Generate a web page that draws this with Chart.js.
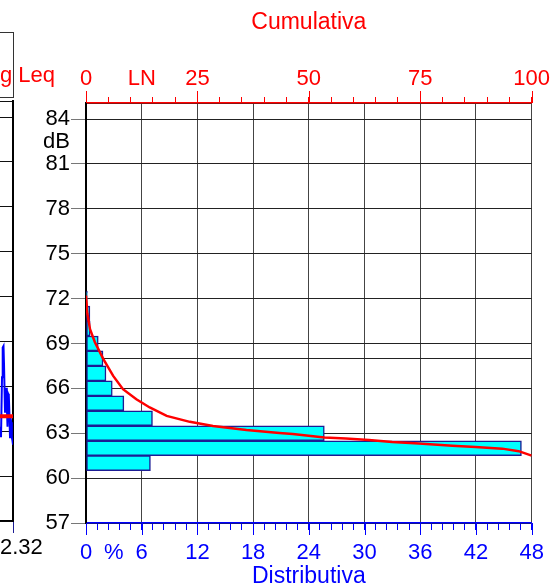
<!DOCTYPE html>
<html>
<head>
<meta charset="utf-8">
<script src="https://cdn.jsdelivr.net/npm/chart.js@4.4.1/dist/chart.umd.min.js"></script>
<style>
  html, body { margin: 0; padding: 0; background: #fff; }
  body { width: 555px; height: 587px; position: relative; overflow: hidden; font-family: 'Liberation Sans', Arial, sans-serif; }
  canvas { position: absolute; left: 0; top: 0; }
  .box { position: absolute; left: -20px; top: 32px; width: 34px; height: 66px; box-sizing: border-box; border: 1.5px solid #333; }
  .txt { position: absolute; font-size: 22px; line-height: 1; white-space: pre; }
</style>
</head>
<body>
<canvas id="side" width="15" height="587"></canvas>
<div class="box"></div>
<div class="txt" style="left:0;top:64px;color:#ff0000">g Leq</div>
<div class="txt" style="left:0;top:536px;color:#000">2.32</div>
<canvas id="main" width="555" height="587"></canvas>
<script>
// distributive histogram (dB level -> % of time)
const dbLevels    = [61, 62, 63, 64, 65, 66, 67, 68, 69, 70, 71, 72];
const distPercent = [6.94, 46.9, 25.67, 7.16, 4.08, 2.83, 2.15, 1.83, 1.32, 0.45, 0.42, 0.15];

// cumulative curve (LN)
const cumPercent = [0, 0.3, 0.9, 2.0, 3.9, 6.1, 8.3, 11.3, 14.3, 18.1, 23.3, 28.5, 36.0, 43.4, 46.4, 53.5, 58.3, 63.5, 68.7, 74.7, 82.2, 87.4, 93.4, 97.1, 100];
const cumLevel   = [72.2, 71.0, 69.95, 69.08, 67.95, 66.83, 65.94, 65.27, 64.72, 64.16, 63.76, 63.49, 63.22, 63.02, 62.95, 62.72, 62.65, 62.55, 62.42, 62.31, 62.16, 62.08, 61.97, 61.8, 61.5];

// left panel fragment (time history)
const signalTime  = [0, 1, 2, 2.7, 3.5, 4, 5, 5.6, 6.2, 6.8, 7.5, 8.2, 8.8, 9.4, 10, 10.6, 11.2, 11.8, 12.4, 13];
const signalLevel = [63.3, 62.6, 66.6, 68.6, 68.7, 67.5, 64.3, 65.2, 65.9, 64.8, 63.3, 65.5, 65.4, 64.2, 62.6, 63.9, 63.6, 62.6, 62.4, 62.1];
const leqLevel = 64.0;

const dbTicks   = [57, 60, 63, 66, 69, 72, 75, 78, 81, 84];
const distTicks = [0, 6, 12, 18, 24, 30, 36, 42, 48];
const cumTicks  = [0, 25, 50, 75, 100];
const yMin = 57, yMax = 85.07;

Chart.defaults.font.family = "'Liberation Sans', Arial, sans-serif";
Chart.defaults.font.size = 22;

const xMinor = [];
for (let i = 0; i <= 40; i++) xMinor.push(Math.round(i * 12) / 10);
const xTickVals = xMinor.concat([3]).sort((a, b) => a - b);
const x2Minor = [];
for (let i = 0; i <= 20; i++) x2Minor.push(i * 5);
const x2TickVals = x2Minor.concat([12.5]).sort((a, b) => a - b);
const yTickVals = dbTicks.concat([68, 82.5, yMax]).sort((a, b) => a - b);

// longer marks for the labelled ticks
const longTicks = {
  id: 'longTicks',
  afterDraw(chart) {
    const ctx = chart.ctx;
    const x = chart.scales.x, x2 = chart.scales.x2;
    ctx.save();
    ctx.lineWidth = 1;
    ctx.strokeStyle = '#0000ff';
    distTicks.forEach(v => {
      const px = Math.round(x.getPixelForValue(v)) + 0.5;
      ctx.beginPath(); ctx.moveTo(px, x.top); ctx.lineTo(px, x.top + 12); ctx.stroke();
    });
    ctx.strokeStyle = '#ff0000';
    cumTicks.forEach(v => {
      const px = Math.round(x2.getPixelForValue(v)) + 0.5;
      ctx.beginPath(); ctx.moveTo(px, x2.bottom); ctx.lineTo(px, x2.bottom - 12); ctx.stroke();
    });
    ctx.restore();
  }
};

new Chart(document.getElementById('main'), {
  type: 'bar',
  data: {
    datasets: [
      {
        type: 'line',
        data: cumPercent.map((p, i) => ({ x: p, y: cumLevel[i] })),
        xAxisID: 'x2', yAxisID: 'y',
        borderColor: '#ff0000', borderWidth: 2.5,
        pointRadius: 0, tension: 0, fill: false
      },
      {
        type: 'bar',
        indexAxis: 'y',
        data: dbLevels.map((d, i) => ({ x: distPercent[i], y: d })),
        xAxisID: 'x', yAxisID: 'y',
        backgroundColor: '#00ffff',
        borderColor: '#1c1c94', borderWidth: 1.5, borderSkipped: false,
        barPercentage: 1, categoryPercentage: 1
      }
    ]
  },
  options: {
    responsive: false,
    animation: false,
    indexAxis: 'y',
    layout: { padding: { left: 0, right: 22, top: 0, bottom: 0 } },
    plugins: { legend: { display: false }, tooltip: { enabled: false } },
    scales: {
      x: {
        type: 'linear', position: 'bottom', min: 0, max: 48, offset: false,
        afterBuildTicks: s => { s.ticks = xTickVals.map(v => ({ value: v })); },
        afterFit: s => { s.height = 64; },
        border: { color: '#0000ff', width: 1.5 },
        grid: {
          offset: false,
          color: c => (c.tick && c.tick.value % 6 === 0) ? '#444' : 'rgba(0,0,0,0)',
          tickColor: c => (c.tick && c.tick.value === 3) ? 'rgba(0,0,0,0)' : '#0000ff',
          tickLength: 7
        },
        ticks: {
          color: '#0000ff', padding: 10, autoSkip: false, maxRotation: 0, minRotation: 0,
          callback: v => v === 3 ? '%' : (distTicks.includes(v) ? String(v) : '')
        },
        title: { display: true, text: 'Distributiva', color: '#0000ff', font: { size: 23, lineHeight: 0.9 }, padding: { top: 0, bottom: 0 } }
      },
      x2: {
        type: 'linear', position: 'top', min: 0, max: 100, offset: false,
        afterBuildTicks: s => { s.ticks = x2TickVals.map(v => ({ value: v })); },
        afterFit: s => { s.height = 103; },
        border: { color: '#ff0000', width: 1.5 },
        grid: {
          offset: false,
          drawOnChartArea: false,
          tickColor: c => (c.tick && c.tick.value === 12.5) ? 'rgba(0,0,0,0)' : '#ff0000',
          tickLength: 6
        },
        ticks: {
          color: '#ff0000', padding: 5, autoSkip: false, maxRotation: 0, minRotation: 0,
          callback: v => v === 12.5 ? 'LN' : (cumTicks.includes(v) ? String(v) : '')
        },
        title: { display: true, text: 'Cumulativa', color: '#ff0000', font: { size: 23 }, padding: { top: 9, bottom: 0 } }
      },
      y: {
        type: 'linear', position: 'left', min: yMin, max: yMax, offset: false,
        afterBuildTicks: s => { s.ticks = yTickVals.map(v => ({ value: v })); },
        afterFit: s => { s.width = 86; },
        border: { color: '#000', width: 2 },
        grid: {
          offset: false,
          color: c => (c.tick && c.tick.value === 82.5) ? 'rgba(0,0,0,0)' : '#222',
          tickColor: c => (c.tick && dbTicks.includes(c.tick.value)) ? '#777' : 'rgba(0,0,0,0)',
          tickLength: 15
        },
        ticks: {
          color: '#000', padding: 1, autoSkip: false,
          callback: v => v === 82.5 ? 'dB' : (dbTicks.includes(v) ? String(v) : '')
        }
      }
    }
  },
  plugins: [longTicks]
});

new Chart(document.getElementById('side'), {
  type: 'line',
  data: {
    datasets: [
      {
        data: [{ x: 0, y: leqLevel }, { x: 13, y: leqLevel }],
        borderColor: '#ff0000', borderWidth: 4, pointRadius: 0
      },
      {
        data: signalTime.map((t, i) => ({ x: t, y: signalLevel[i] })),
        borderColor: '#0000ff', borderWidth: 2, pointRadius: 0, tension: 0
      }
    ]
  },
  options: {
    responsive: false,
    animation: false,
    layout: { padding: { left: 0, right: 0, top: 101, bottom: 0 } },
    plugins: { legend: { display: false }, tooltip: { enabled: false } },
    scales: {
      x: {
        type: 'linear', min: 0, max: 13,
        afterBuildTicks: s => { s.ticks = [{ value: 13 }]; },
        afterFit: s => { s.height = 66; },
        border: { color: '#000', width: 1.5 },
        grid: { drawOnChartArea: false, tickColor: '#1c1c94', tickLength: 12 },
        ticks: { display: false }
      },
      y: {
        type: 'linear', position: 'right', min: yMin, max: yMax,
        afterBuildTicks: s => { s.ticks = dbTicks.concat([yMax]).map(v => ({ value: v })); },
        afterFit: s => { s.width = 2; },
        border: { color: '#000', width: 2 },
        grid: { color: '#111', drawTicks: false },
        ticks: { display: false }
      }
    }
  }
});
</script>
</body>
</html>
